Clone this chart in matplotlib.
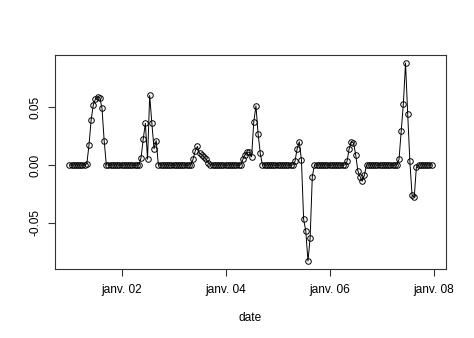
import matplotlib
matplotlib.use('Agg')
import matplotlib.pyplot as plt
import pandas as pd

plt.rcParams['font.family'] = ['Liberation Sans', 'DejaVu Sans']

# hourly series, 1 Jan 00:00 -> 7 Jan 23:00
start = '2000-01-01 00:00'
values = [
    0, 0, 0, 0, 0, 0, 0, 0, 0.001, 0.017, 0.039, 0.052,
    0.057, 0.059, 0.058, 0.049, 0.021, 0, 0, 0, 0, 0, 0, 0,
    0, 0, 0, 0, 0, 0, 0, 0, 0, 0.006, 0.022, 0.036,
    0.005, 0.060, 0.036, 0.014, 0.021, 0, 0, 0, 0, 0, 0, 0,
    0, 0, 0, 0, 0, 0, 0, 0, 0, 0.005, 0.012, 0.016,
    0.010, 0.009, 0.007, 0.005, 0.002, 0, 0, 0, 0, 0, 0, 0,
    0, 0, 0, 0, 0, 0, 0, 0, 0.005, 0.009, 0.011, 0.011,
    0.007, 0.037, 0.051, 0.027, 0.010, 0, 0, 0, 0, 0, 0, 0,
    0, 0, 0, 0, 0, 0, 0, 0, 0.003, 0.014, 0.020, 0.004,
    -0.047, -0.057, -0.083, -0.063, -0.010, 0, 0, 0, 0, 0, 0, 0,
    0, 0, 0, 0, 0, 0, 0, 0, 0.003, 0.014, 0.020, 0.019,
    0.009, -0.005, -0.010, -0.014, -0.009, 0, 0, 0, 0, 0, 0, 0,
    0, 0, 0, 0, 0, 0, 0, 0, 0.005, 0.029, 0.053, 0.088,
    0.044, 0.003, -0.026, -0.028, -0.002, 0, 0, 0, 0, 0, 0, 0,
]
dates = pd.date_range(start, periods=len(values), freq='h')

xtick_dates = ['2000-01-02', '2000-01-04', '2000-01-06', '2000-01-08']
xtick_labels = ['janv. 02', 'janv. 04', 'janv. 06', 'janv. 08']
ytick_values = [-0.05, 0.00, 0.05]
ytick_labels = ['-0.05', '0.00', '0.05']

fig = plt.figure(figsize=(4.74, 3.38), dpi=100)
ax = fig.add_axes([0.116, 0.204, 0.825, 0.633])

ax.plot(dates, values, color='black', lw=0.7, marker='o', markersize=4.0,
        markerfacecolor='none', markeredgecolor='black', markeredgewidth=0.7)

# R style 4% padding
span = dates[-1] - dates[0]
ax.set_xlim(dates[0] - span * 0.04, dates[-1] + span * 0.04)
vmin, vmax = min(values), max(values)
pad = (vmax - vmin) * 0.04
ax.set_ylim(vmin - pad, vmax + pad)

ax.set_xticks(pd.to_datetime(xtick_dates))
ax.set_xticklabels(xtick_labels)
ax.set_yticks(ytick_values)
ax.set_yticklabels(ytick_labels, rotation=90, va='center')

ax.tick_params(axis='both', length=5, width=0.8, labelsize=8.6, color='#333333')
ax.tick_params(axis='x', pad=6)
ax.tick_params(axis='y', pad=5)
for s in ax.spines.values():
    s.set_linewidth(0.8)
    s.set_color('#333333')

ax.set_xlabel('date', fontsize=8.6, labelpad=11)

fig.savefig('out.png', dpi=100)
